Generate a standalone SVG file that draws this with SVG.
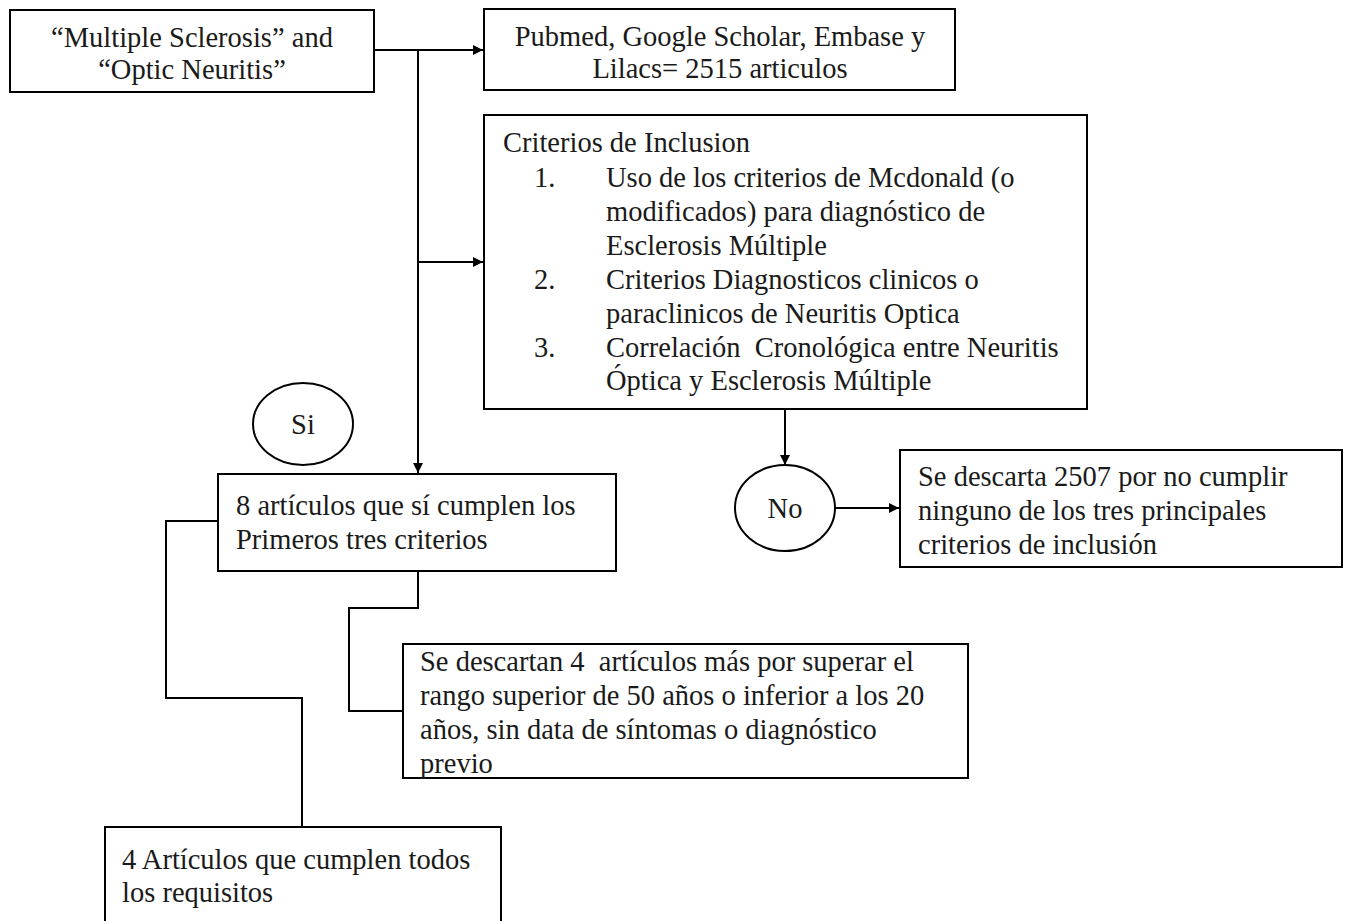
<svg xmlns="http://www.w3.org/2000/svg" width="1349" height="921" viewBox="0 0 1349 921">
<style>
.box{fill:#fff;stroke:#000;stroke-width:2}
.t{font-family:"Liberation Serif","Times New Roman",serif;font-size:28.5px;fill:#1a1a1a;white-space:pre}
.c{text-anchor:middle}
.ln{fill:none;stroke:#000;stroke-width:2}
</style>
<defs>
<marker id="ah" viewBox="0 0 10 10" refX="10" refY="5" markerWidth="5" markerHeight="5" orient="auto" markerUnits="strokeWidth">
<path d="M0,0 L10,5 L0,10 z" fill="#000"/>
</marker>
</defs>
<rect width="1349" height="921" fill="#fff"/>
<g id="connectors">
<path class="ln" d="M374,50 H483" marker-end="url(#ah)"/>
<path class="ln" d="M418,50 V473" marker-end="url(#ah)"/>
<path class="ln" d="M418,262 H483" marker-end="url(#ah)"/>
<path class="ln" d="M785,409 V465" marker-end="url(#ah)"/>
<path class="ln" d="M835,508 H899" marker-end="url(#ah)"/>
<path class="ln" d="M418,571 V608 H349 V711 H403"/>
<path class="ln" d="M218,521 H166 V698 H302 V827"/>
</g>
<g id="n1">
<rect class="box" x="10" y="10" width="364" height="82"/>
<text class="t c" x="192" y="47">“Multiple Sclerosis” and</text>
<text class="t c" x="192" y="79">“Optic Neuritis”</text>
</g>
<g id="n2">
<rect class="box" x="484" y="9" width="471" height="81"/>
<text class="t c" x="720" y="46">Pubmed, Google Scholar, Embase y</text>
<text class="t c" x="720" y="78">Lilacs= 2515 articulos</text>
</g>
<g id="n3">
<rect class="box" x="484" y="115" width="603" height="294"/>
<text class="t" x="503" y="152">Criterios de Inclusion</text>
<text class="t" x="534" y="187">1.</text>
<text class="t" x="606" y="187">Uso de los criterios de Mcdonald (o</text>
<text class="t" x="606" y="221">modificados) para diagnóstico de</text>
<text class="t" x="606" y="255">Esclerosis Múltiple</text>
<text class="t" x="534" y="289">2.</text>
<text class="t" x="606" y="289">Criterios Diagnosticos clinicos o</text>
<text class="t" x="606" y="323">paraclinicos de Neuritis Optica</text>
<text class="t" x="534" y="357">3.</text>
<text class="t" x="606" y="357" xml:space="preserve">Correlación  Cronológica entre Neuritis</text>
<text class="t" x="606" y="390">Óptica y Esclerosis Múltiple</text>
</g>
<g id="si">
<ellipse cx="303" cy="424" rx="50" ry="41" fill="#fff" stroke="#000" stroke-width="2"/>
<text class="t c" x="303" y="434">Si</text>
</g>
<g id="no">
<ellipse cx="785" cy="508" rx="50" ry="43" fill="#fff" stroke="#000" stroke-width="2"/>
<text class="t c" x="785" y="518">No</text>
</g>
<g id="n4">
<rect class="box" x="900" y="450" width="442" height="117"/>
<text class="t" x="918" y="486">Se descarta 2507 por no cumplir</text>
<text class="t" x="918" y="520">ninguno de los tres principales</text>
<text class="t" x="918" y="554">criterios de inclusión</text>
</g>
<g id="n5">
<rect class="box" x="218" y="474" width="398" height="97"/>
<text class="t" x="236" y="515">8 artículos que sí cumplen los</text>
<text class="t" x="236" y="549">Primeros tres criterios</text>
</g>
<g id="n6">
<rect class="box" x="403" y="644" width="565" height="134"/>
<text class="t" x="420" y="671" xml:space="preserve">Se descartan 4  artículos más por superar el</text>
<text class="t" x="420" y="705">rango superior de 50 años o inferior a los 20</text>
<text class="t" x="420" y="739">años, sin data de síntomas o diagnóstico</text>
<text class="t" x="420" y="773">previo</text>
</g>
<g id="n7">
<rect class="box" x="105" y="827" width="396" height="100"/>
<text class="t" x="122" y="869">4 Artículos que cumplen todos</text>
<text class="t" x="122" y="902">los requisitos</text>
</g>
</svg>
